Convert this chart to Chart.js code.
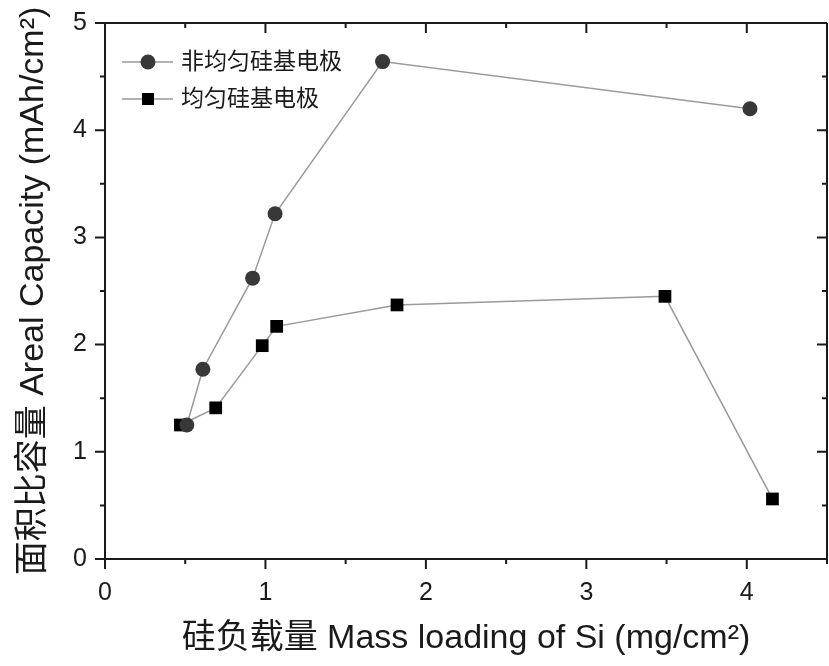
<!DOCTYPE html>
<html lang="zh">
<head>
<meta charset="UTF-8">
<title>面积比容量</title>
<script src="https://cdn.jsdelivr.net/npm/chart.js"></script>
<style>
  html, body { margin: 0; padding: 0; background: #fff; overflow: hidden; }
  #wrap { width: 836px; height: 666px; }
</style>
</head>
<body>
<div id="wrap"><canvas id="capChart" width="836" height="666"></canvas></div>
<script>
// values
const seriesNames = ['非均匀硅基电极', '均匀硅基电极'];
const nonUniformX = [0.51, 0.61, 0.92, 1.06, 1.73, 4.02];
const nonUniformY = [1.25, 1.77, 2.62, 3.22, 4.64, 4.20];
const uniformX = [0.47, 0.69, 0.98, 1.07, 1.82, 3.49, 4.16];
const uniformY = [1.25, 1.41, 1.99, 2.17, 2.37, 2.45, 0.56];
const xTicks = [0, 1, 2, 3, 4];
const yTicks = [0, 1, 2, 3, 4, 5];

const FONT = "'Liberation Sans', 'Noto Sans CJK SC', sans-serif";
const INK = '#1a1a1a';

function toPoints(xs, ys) {
    return xs.map((x, i) => ({ x: x, y: ys[i] }));
}

// frame + major/minor ticks on all four sides
const framePlugin = {
    id: 'frame',
    afterDraw(chart) {
        const { ctx, chartArea: a, scales: { x, y } } = chart;
        ctx.save();
        ctx.strokeStyle = INK;
        ctx.lineWidth = 2;
        ctx.beginPath();
        ctx.moveTo(a.left, a.top); ctx.lineTo(a.right, a.top);
        ctx.moveTo(a.right, a.top); ctx.lineTo(a.right, a.bottom);
        for (let v = 0; v <= 4.5 + 1e-9; v += 0.5) {
            const len = Number.isInteger(v) ? 10 : 5;
            const px = x.getPixelForValue(v);
            ctx.moveTo(px, a.bottom); ctx.lineTo(px, a.bottom + len);
            ctx.moveTo(px, a.top); ctx.lineTo(px, a.top + len);
        }
        for (let v = 0; v <= 5 + 1e-9; v += 0.5) {
            const len = Number.isInteger(v) ? 10 : 5;
            const py = y.getPixelForValue(v);
            ctx.moveTo(a.left, py); ctx.lineTo(a.left - len, py);
            ctx.moveTo(a.right, py); ctx.lineTo(a.right - len, py);
        }
        ctx.stroke();
        ctx.restore();
    }
};

// legend with line through the marker, like the original
const lineLegend = {
    id: 'lineLegend',
    afterDatasetsDraw(chart) {
        const { ctx, chartArea: a } = chart;
        ctx.save();
        chart.data.datasets.forEach((ds, i) => {
            const cy = a.top + 39 + i * 37;
            const x0 = a.left + 17;
            ctx.strokeStyle = ds.borderColor;
            ctx.lineWidth = ds.borderWidth;
            ctx.beginPath();
            ctx.moveTo(x0, cy); ctx.lineTo(x0 + 51, cy);
            ctx.stroke();
            ctx.fillStyle = ds.pointBackgroundColor;
            const mx = x0 + 26;
            if (ds.pointStyle === 'rect') {
                ctx.fillRect(mx - 6, cy - 6, 12, 12);
            } else {
                ctx.beginPath();
                ctx.arc(mx, cy, 7.5, 0, Math.PI * 2);
                ctx.fill();
            }
            ctx.fillStyle = INK;
            ctx.font = '23px ' + FONT;
            ctx.textBaseline = 'middle';
            ctx.fillText(ds.label, x0 + 59, cy + 1);
        });
        ctx.restore();
    }
};

new Chart(document.getElementById('capChart'), {
    type: 'scatter',
    data: {
        datasets: [{
            label: seriesNames[0],
            data: toPoints(nonUniformX, nonUniformY),
            showLine: true,
            borderColor: '#9a9a9a',
            borderWidth: 1.5,
            pointStyle: 'circle',
            pointRadius: 7.5,
            pointBackgroundColor: '#383838',
            pointBorderColor: '#383838',
            pointBorderWidth: 0
        }, {
            label: seriesNames[1],
            data: toPoints(uniformX, uniformY),
            showLine: true,
            borderColor: '#9a9a9a',
            borderWidth: 1.5,
            pointStyle: 'rect',
            pointRadius: 9,
            pointBackgroundColor: '#000',
            pointBorderColor: '#000',
            pointBorderWidth: 0
        }]
    },
    options: {
        responsive: false,
        animation: false,
        clip: false,
        layout: { padding: { top: 23, right: 1, left: 0, bottom: 0 } },
        plugins: {
            legend: { display: false },
            tooltip: { enabled: false }
        },
        scales: {
            x: {
                type: 'linear',
                min: 0,
                max: 4.5,
                afterFit(s) { s.height = 107; },
                afterBuildTicks(s) { s.ticks = xTicks.map(v => ({ value: v })); },
                grid: { drawOnChartArea: false, drawTicks: true, tickLength: 10, color: 'rgba(0,0,0,0)' },
                border: { display: true, color: INK, width: 2 },
                ticks: { color: INK, font: { family: FONT, size: 25 }, padding: 9, maxRotation: 0 },
                title: {
                    display: true,
                    text: '硅负载量 Mass loading of Si (mg/cm²)',
                    color: INK,
                    font: { family: FONT, size: 34 },
                    padding: { top: 0, bottom: 7 }
                }
            },
            y: {
                type: 'linear',
                min: 0,
                max: 5,
                afterFit(s) { s.width = 105; },
                afterBuildTicks(s) { s.ticks = yTicks.map(v => ({ value: v })); },
                grid: { drawOnChartArea: false, drawTicks: true, tickLength: 10, color: 'rgba(0,0,0,0)' },
                border: { display: true, color: INK, width: 2 },
                ticks: { color: INK, font: { family: FONT, size: 25 }, padding: 8 },
                title: {
                    display: true,
                    text: '面积比容量 Areal Capacity (mAh/cm²)',
                    color: INK,
                    font: { family: FONT, size: 34 },
                    padding: { top: 13, bottom: 0 }
                }
            }
        }
    },
    plugins: [framePlugin, lineLegend]
});
</script>
</body>
</html>
